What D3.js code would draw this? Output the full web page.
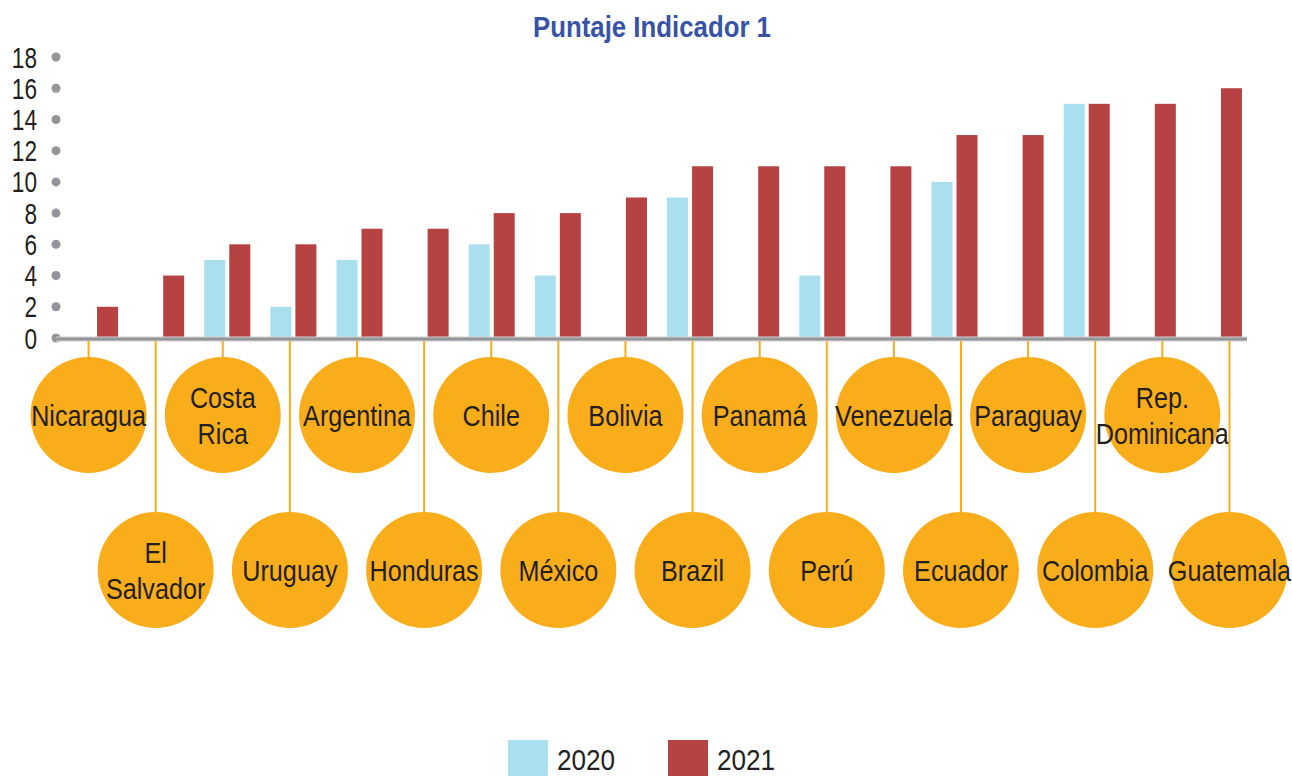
<!DOCTYPE html>
<html>
<head>
<meta charset="utf-8">
<script src="https://cdn.jsdelivr.net/npm/d3@7"></script>
<style>
  body { margin: 0; background: #fff; }
  svg text { font-family: 'Liberation Sans', Arial, Helvetica, sans-serif; }
</style>
</head>
<body>
<svg id="chart" width="1292" height="776"></svg>
<script>
// data
const countries = ['Nicaragua', 'El Salvador', 'Costa Rica', 'Uruguay', 'Argentina', 'Honduras',
  'Chile', 'México', 'Bolivia', 'Brazil', 'Panamá', 'Perú', 'Venezuela', 'Ecuador',
  'Paraguay', 'Colombia', 'Rep. Dominicana', 'Guatemala'];
const values2020 = [null, null, 5, 2, 5, null, 6, 4, null, 9, null, 4, null, 10, null, 15, null, null];
const values2021 = [2, 4, 6, 6, 7, 7, 8, 8, 9, 11, 11, 11, 11, 13, 13, 15, 15, 16];
const years = ['2020', '2021'];
const yTicks = [0, 2, 4, 6, 8, 10, 12, 14, 16, 18];

const cfg = {
  baseY: 338,
  topY: 57,
  barW: 21,
  barGap: 4,
  circleR: 58,
  upperRowY: 415,
  lowerRowY: 570,
  narrow: 0.84, // the original uses a condensed face
  color2020: '#a9dfee',
  color2021: '#b64241',
  orange: '#f9ad1b',
  grey: '#939598',
  textColor: '#231f20',
  titleColor: '#3953a4',
};

const svg = d3.select('#chart');

const y = d3.scaleLinear().domain([0, 18]).range([cfg.baseY, cfg.topY]);
// bar groups
const x = d3.scaleBand().domain(countries).range([62, 1252]);
// labels spread a bit wider than the bars
const xLabel = d3.scaleBand().domain(countries).range([55, 1263]);
const colorScale = d3.scaleOrdinal().domain(years).range([cfg.color2020, cfg.color2021]);

// helper: condensed text at a point
function narrowText(sel, px, py, scale) {
  return sel.append('g')
    .attr('transform', 'translate(' + px + ',' + py + ') scale(' + scale + ',1)')
    .append('text');
}

// title
narrowText(svg, 652, 37, 0.86)
  .text('Puntaje Indicador 1')
  .attr('text-anchor', 'middle')
  .style('font-size', '30px')
  .style('font-weight', 'bold')
  .style('fill', cfg.titleColor);

// y axis labels and dots
const yAxis = svg.append('g').attr('class', 'yaxis');
yAxis.selectAll('circle')
  .data(yTicks)
  .enter()
  .append('circle')
  .attr('cx', 56)
  .attr('cy', d => y(d))
  .attr('r', 4.5)
  .attr('fill', cfg.grey);
yAxis.selectAll('g')
  .data(yTicks)
  .enter()
  .append('g')
  .attr('transform', d => 'translate(37,' + (y(d) + 10.5) + ') scale(0.78,1)')
  .append('text')
  .text(d => d)
  .attr('text-anchor', 'end')
  .style('font-size', '29px')
  .style('fill', cfg.textColor);

// bars
const groups = svg.selectAll('.group')
  .data(countries)
  .enter()
  .append('g')
  .classed('group', true)
  .attr('transform', d => 'translate(' + (x(d) + x.bandwidth() / 2) + ',0)');

groups.each(function(d, i) {
  const g = d3.select(this);
  const vals = [values2020[i], values2021[i]];
  vals.forEach((v, k) => {
    if (v === null) return;
    const offset = k === 0 ? -(cfg.barW + cfg.barGap / 2) : cfg.barGap / 2;
    g.append('rect')
      .attr('x', offset)
      .attr('y', y(v))
      .attr('width', cfg.barW)
      .attr('height', y(0) - y(v))
      .attr('fill', colorScale(years[k]));
  });
});

// baseline
svg.append('line')
  .attr('x1', 56)
  .attr('x2', 1247)
  .attr('y1', cfg.baseY + 1)
  .attr('y2', cfg.baseY + 1)
  .attr('stroke', '#d1d2d4')
  .attr('stroke-width', 5);
svg.append('line')
  .attr('x1', 56)
  .attr('x2', 1247)
  .attr('y1', cfg.baseY + 1)
  .attr('y2', cfg.baseY + 1)
  .attr('stroke', cfg.grey)
  .attr('stroke-width', 3);

// country labels: leader line + circle
const labels = svg.selectAll('.label')
  .data(countries)
  .enter()
  .append('g')
  .classed('label', true)
  .attr('transform', d => 'translate(' + (xLabel(d) + xLabel.bandwidth() / 2) + ',0)');

const rowY = i => (i % 2 === 0 ? cfg.upperRowY : cfg.lowerRowY);

labels.append('line')
  .attr('y1', cfg.baseY + 3)
  .attr('y2', (d, i) => rowY(i) - cfg.circleR + 2)
  .attr('stroke', cfg.orange)
  .attr('stroke-width', 2);

labels.append('circle')
  .attr('cy', (d, i) => rowY(i))
  .attr('r', cfg.circleR)
  .attr('fill', cfg.orange);

labels.each(function(d, i) {
  const lines = d.split(' ');
  const lineH = 37;
  const y0 = rowY(i) - (lines.length - 1) * lineH / 2 + 11;
  narrowText(d3.select(this), 0, y0, cfg.narrow)
    .attr('text-anchor', 'middle')
    .style('font-size', '30px')
    .style('fill', cfg.textColor)
    .selectAll('tspan')
    .data(lines)
    .enter()
    .append('tspan')
    .attr('x', 0)
    .attr('y', (l, j) => j * lineH)
    .text(l => l);
});

// legend
const legend = svg.append('g')
  .attr('transform', 'translate(508,740)');
const legendItems = legend.selectAll('.item')
  .data(years)
  .enter()
  .append('g')
  .classed('item', true)
  .attr('transform', (d, i) => 'translate(' + i * 160 + ',0)');
legendItems.append('rect')
  .attr('width', 40)
  .attr('height', 36)
  .attr('fill', d => colorScale(d));
legendItems.each(function(d) {
  narrowText(d3.select(this), 49, 30, 0.87)
    .text(d)
    .style('font-size', '30px')
    .style('fill', cfg.textColor);
});
</script>
</body>
</html>
